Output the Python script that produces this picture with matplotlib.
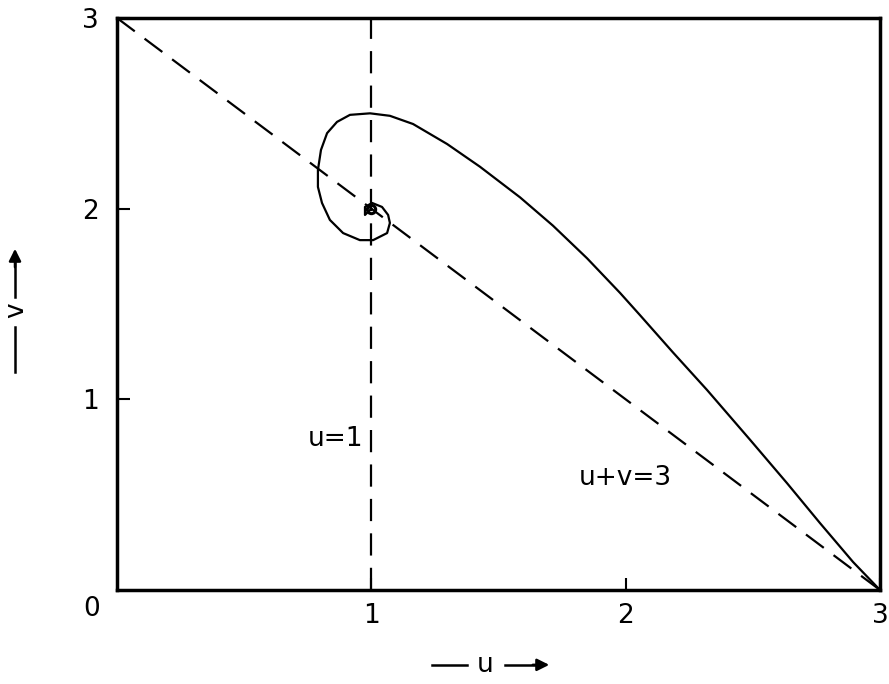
import matplotlib.pyplot as plt
import numpy as np

# trajectory in the (u, v) phase plane
u_traj = [3.0, 2.894, 2.764, 2.634, 2.489, 2.320, 2.186, 2.056, 1.978, 1.848,
          1.714, 1.585, 1.427, 1.298, 1.164, 1.073, 0.995, 0.916, 0.865, 0.826,
          0.802, 0.790, 0.790, 0.806, 0.837, 0.889, 0.955, 1.007, 1.062, 1.073,
          1.066, 1.042, 1.003, 0.975, 0.975, 1.0]
v_traj = [0.0, 0.147, 0.351, 0.561, 0.788, 1.049, 1.246, 1.442, 1.558, 1.740,
          1.911, 2.059, 2.220, 2.339, 2.444, 2.487, 2.500, 2.492, 2.455, 2.396,
          2.308, 2.203, 2.114, 2.030, 1.941, 1.872, 1.835, 1.835, 1.872, 1.925,
          1.967, 2.009, 2.030, 2.009, 1.967, 2.0]

# equilibrium point
u_eq = [1.0]
v_eq = [2.0]

# the two nullclines: u = 1 and u + v = 3
line_u = [1.0, 1.0]
line_v = [0.0, 3.0]
diag_u = [0.0, 3.0]
diag_v = [3.0, 0.0]

ticks = [1, 2, 3]
tick_labels = ['1', '2', '3']

fs = 19
fig = plt.figure(figsize=(8.89, 6.84), dpi=100)
ax = fig.add_axes([0.1316, 0.1374, 0.9899 - 0.1316, 0.9737 - 0.1374])

ax.plot(line_u, line_v, color='k', lw=1.6, dashes=(10, 5.5))
ax.plot(diag_u, diag_v, color='k', lw=1.6, dashes=(10, 5.5))
ax.plot(u_traj, v_traj, color='k', lw=1.6, solid_joinstyle='round')
ax.plot(u_eq, v_eq, marker='o', ms=6, mfc='none', mec='k', mew=2.2, linestyle='None')

ax.set_xlim(0, 3)
ax.set_ylim(0, 3)
ax.set_xticks(ticks)
ax.set_xticklabels(tick_labels)
ax.set_yticks(ticks)
ax.set_yticklabels(tick_labels)
ax.tick_params(direction='in', length=9, width=1.5, labelsize=fs)
ax.tick_params(axis='x', pad=9)
ax.tick_params(axis='y', pad=13)
for s in ax.spines.values():
    s.set_linewidth(2.5)

ax.text(-0.1, -0.03, '0', fontsize=fs, ha='center', va='top')
ax.text(0.86, 0.79, 'u=1', fontsize=fs, ha='center', va='center')
ax.text(2.0, 0.59, 'u+v=3', fontsize=fs, ha='center', va='center')

# axis labels drawn as "—— u ——>" style
fig.text(0.546, 0.028, 'u', fontsize=fs, ha='center', va='center')
fig.add_artist(plt.Line2D([432 / 889, 467 / 889], [0.028, 0.028], color='k', lw=1.8))
fig.add_artist(plt.Line2D([505 / 889, 540 / 889], [0.028, 0.028], color='k', lw=1.8))
ax.annotate('', xy=(552 / 889, 0.028), xytext=(530 / 889, 0.028), xycoords='figure fraction',
            arrowprops=dict(arrowstyle='-|>', color='k', lw=1.8, mutation_scale=18))

fig.text(16 / 889, 1 - 310 / 684, 'v', fontsize=fs, ha='center', va='center', rotation=90)
fig.add_artist(plt.Line2D([15 / 889, 15 / 889], [1 - 372 / 684, 1 - 327 / 684], color='k', lw=1.8))
fig.add_artist(plt.Line2D([15 / 889, 15 / 889], [1 - 297 / 684, 1 - 262 / 684], color='k', lw=1.8))
ax.annotate('', xy=(15 / 889, 1 - 246 / 684), xytext=(15 / 889, 1 - 270 / 684), xycoords='figure fraction',
            arrowprops=dict(arrowstyle='-|>', color='k', lw=1.8, mutation_scale=18))

fig.savefig('out.png', dpi=100)
